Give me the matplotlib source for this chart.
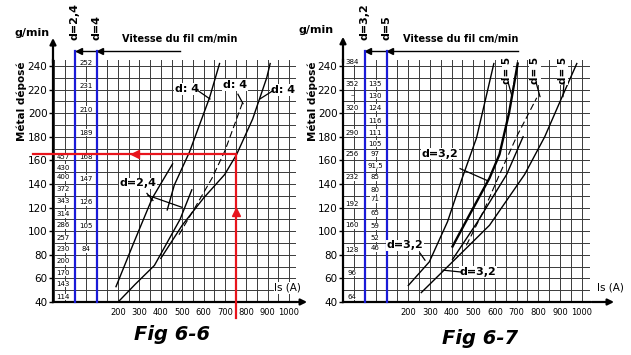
import matplotlib
matplotlib.use("Agg")
import matplotlib.pyplot as plt
import numpy as np

# Fig 6-6 : d = 2,4 and d = 4
curve_24a_I = [190, 275, 360, 455]
curve_24a_g = [53, 91, 128, 157]
curve_24b_I = [200, 280, 370, 450, 490, 545]
curve_24b_g = [40, 55, 71, 97, 110, 135]
curve_4a_I = [430, 463, 534, 628, 675]
curve_4a_g = [118, 139, 167, 213, 242]
curve_4b_I = [485, 560, 640, 700, 785]
curve_4b_g = [97, 120, 145, 168, 210]
curve_4c_I = [400, 500, 600, 699, 755, 830, 896, 912]
curve_4c_g = [77, 105, 128, 148, 165, 195, 230, 242]

wire_24_speed = [114, 143, 170, 200, 230, 257, 286, 314, 343, 372, 400, 430, 457]
wire_24_g = [44.2, 55.2, 64.5, 74.6, 84.7, 94, 105, 114.3, 125.2, 135.4, 145.5, 153.9, 163.2]
wire_4_speed = [84, 105, 126, 147, 168, 189, 210, 231, 252]
wire_4_g = [84.7, 104.1, 124.4, 144.6, 163.2, 183.5, 202.9, 223.1, 242.5]

# red reading example on Fig 6-6
red_I = 750
red_g = 165

# Fig 6-7 : d = 3,2 and d = 5
curve_r1_I = [200, 297, 381, 445, 515, 595]
curve_r1_g = [54, 74, 108, 143, 179, 242]
curve_r2_I = [404, 480, 575, 621, 665, 705]
curve_r2_g = [87, 113, 145, 165, 200, 242]
curve_r3_I = [404, 520, 654, 730]
curve_r3_g = [76, 108, 148, 180]
curve_rd_I = [468, 550, 621, 700, 793]
curve_rd_g = [88, 118, 148, 180, 213]
curve_rr_I = [260, 404, 575, 737, 830, 913, 978]
curve_rr_g = [48, 74, 105, 148, 180, 215, 242]

wire_32_speed = ['64', '96', '128', '160', '192', '232', '256', '290', '320', '–', '352', '384']
wire_32_g = [44.2, 64.5, 83.9, 105, 122.7, 145.5, 165.7, 183.5, 204.6, 215.5, 224.8, 243.4]
wire_5_speed = ['135', '130', '124', '116', '111', '105', '97', '91,5', '85', '80', '71', '65', '59', '52', '46']
wire_5_g = [224.8, 214.7, 204.6, 193.6, 183.5, 174.2, 165.7, 155.6, 145.5, 134.5, 126.9, 115.1, 104.1, 94, 85.6]

y_ticks = list(range(40, 241, 20))
x_ticks = list(range(200, 1001, 100))

BLUE = '#1a1ad8'
RED = '#e8141c'
W, H = 631, 355


def px_axes(fig, x0, y0, x1, y1):
    return fig.add_axes([x0 / W, 1 - y1 / H, (x1 - x0) / W, (y1 - y0) / H])


def setup_panel(ax, xmin, xmax, arrow_x, arrow_y):
    ax.set_xlim(xmin, xmax)
    ax.set_ylim(40, 245)
    for I in range(-100, 1001, 50):
        ax.plot([I, I], [40, 245], color='#3a3a3a', lw=0.7, zorder=1)
    for g in range(50, 241, 10):
        ax.plot([xmin, xmax], [g, g], color='#3a3a3a', lw=0.7, zorder=1)
    for s in ['top', 'right']:
        ax.spines[s].set_visible(False)
    ax.spines['left'].set_linewidth(1.6)
    ax.spines['bottom'].set_linewidth(1.6)
    ax.set_yticks(y_ticks)
    ax.set_yticklabels([str(v) for v in y_ticks], fontsize=7.5)
    ax.tick_params(axis='y', length=3, width=1, pad=1)
    ax.set_xticks(x_ticks)
    ax.set_xticklabels([str(v) for v in x_ticks], fontsize=6)
    ax.tick_params(axis='x', length=0, pad=4)
    # axis arrows
    ax.annotate('', xy=(xmin, arrow_y), xytext=(xmin, 240), annotation_clip=False,
                arrowprops=dict(arrowstyle='-|>', color='black', lw=1.6, mutation_scale=9))
    ax.annotate('', xy=(arrow_x, 40), xytext=(xmax - 5, 40), annotation_clip=False,
                arrowprops=dict(arrowstyle='-|>', color='black', lw=1.6, mutation_scale=9))


def header(ax, d1, d2, title_I, line_end):
    ax.plot([0, 0], [40, 252.7], color=BLUE, lw=1.6, clip_on=False, zorder=4)
    ax.plot([100, 100], [40, 252.7], color=BLUE, lw=1.6, clip_on=False, zorder=4)
    ax.plot([0, line_end], [252.7, 252.7], color='black', lw=1.0, clip_on=False)
    ax.plot([15, 115], [252.7, 252.7], ls='none', marker='<', ms=4, color='black', clip_on=False)
    ax.text(-2, 262, d1, rotation=90, ha='center', va='bottom', fontsize=8, fontweight='bold')
    ax.text(101, 262, d2, rotation=90, ha='center', va='bottom', fontsize=8, fontweight='bold')
    ax.text(title_I, 262.8, 'Vitesse du fil cm/min', ha='center', va='center',
            fontsize=7, fontweight='bold')


def label(ax, I, g, txt, rot=0):
    ax.text(I, g, txt, ha='center', va='center', fontsize=8, fontweight='bold', rotation=rot,
            bbox=dict(facecolor='white', edgecolor='none', pad=0.6), zorder=6)


def leader(ax, I0, g0, I1, g1):
    ax.plot([I0, I1], [g0, g1], color='black', lw=0.9, zorder=6)


fig = plt.figure(figsize=(W / 100, H / 100), dpi=100)
fig.patch.set_facecolor('white')

# ----------- Fig 6-6 ------------
ax1 = px_axes(fig, 53, 60, 296, 302)
setup_panel(ax1, -105, 1033, 1098, 266)
header(ax1, 'd=2,4', 'd=4', 490, 490)

for I_, g_ in [(curve_24a_I, curve_24a_g), (curve_24b_I, curve_24b_g),
               (curve_4a_I, curve_4a_g), (curve_4c_I, curve_4c_g)]:
    ax1.plot(I_, g_, color='black', lw=1.0, zorder=3)
ax1.plot(curve_4b_I, curve_4b_g, color='black', lw=0.8, ls=(0, (6, 3)), zorder=3)

for v, g in zip(wire_24_speed, wire_24_g):
    ax1.text(-58, g, str(v), ha='center', va='center', fontsize=5, zorder=5,
             bbox=dict(facecolor='white', edgecolor='none', pad=0.3))
for v, g in zip(wire_4_speed, wire_4_g):
    ax1.text(49.5, g, str(v), ha='center', va='center', fontsize=5, zorder=5,
             bbox=dict(facecolor='white', edgecolor='none', pad=0.3))

# red reading
ax1.plot([-200, red_I], [red_g, red_g], color=RED, lw=1.6, clip_on=False, zorder=5)
ax1.plot([red_I, red_I], [26.5, red_g], color=RED, lw=1.6, clip_on=False, zorder=5)
ax1.plot([279], [red_g], marker='<', ms=6, color=RED, zorder=5)
ax1.plot([red_I], [116], marker='^', ms=6, color=RED, zorder=5)

label(ax1, 293, 140.4, 'd=2,4')
leader(ax1, 335, 132, 363, 126)
leader(ax1, 340, 130.3, 499, 120.2)
label(ax1, 522, 220.6, 'd: 4')
leader(ax1, 574, 219, 630, 212)
label(ax1, 747, 224, 'd: 4')
leader(ax1, 761, 216, 785, 208)
label(ax1, 972, 219.7, 'd: 4')
leader(ax1, 925, 219, 864, 212)

ax1.text(995, 52, 'Is (A)', ha='center', va='center', fontsize=7.5,
         bbox=dict(facecolor='white', edgecolor='none', pad=0.5), zorder=6)
ax1.text(-203, 268, 'g/min', ha='center', va='center', fontsize=8, fontweight='bold',
         clip_on=False)
ax1.text(-250, 210, 'Métal déposé', rotation=90, ha='center', va='center', fontsize=7.5,
         fontweight='bold')

# ----------- Fig 6-7 ------------
ax2 = px_axes(fig, 343, 60, 590, 302)
setup_panel(ax2, -101.6, 1039, 1163, 267)
header(ax2, 'd=3,2', 'd=5', 443, 707)

for I_, g_ in [(curve_r1_I, curve_r1_g), (curve_r3_I, curve_r3_g), (curve_rr_I, curve_rr_g)]:
    ax2.plot(I_, g_, color='black', lw=1.0, zorder=3)
ax2.plot(curve_r2_I, curve_r2_g, color='black', lw=1.7, zorder=3)
ax2.plot(curve_rd_I, curve_rd_g, color='black', lw=0.8, ls=(0, (6, 3)), zorder=3)

for v, g in zip(wire_32_speed, wire_32_g):
    ax2.text(-60, g, v, ha='center', va='center', fontsize=5, zorder=5,
             bbox=dict(facecolor='white', edgecolor='none', pad=0.3))
for v, g in zip(wire_5_speed, wire_5_g):
    ax2.text(46, g, v, ha='center', va='center', fontsize=5, zorder=5,
             bbox=dict(facecolor='white', edgecolor='none', pad=0.3))

label(ax2, 346, 165.7, 'd=3,2')
leader(ax2, 439, 153, 563, 143)
label(ax2, 185, 88, 'd=3,2')
leader(ax2, 254, 81.4, 277, 75.4)
label(ax2, 522, 65.3, 'd=3,2')
leader(ax2, 448, 65.3, 360, 67)
for I_lab, I_end in [(656, 679), (785, 808), (914, 914)]:
    ax2.text(I_lab, 236, 'd= 5', rotation=90, ha='center', va='center', fontsize=7.5,
             fontweight='bold', bbox=dict(facecolor='white', edgecolor='none', pad=0.4),
             zorder=6, clip_on=False)
    leader(ax2, I_lab + 5, 226, I_end, 214)

ax2.text(1132, 52, 'Is (A)', ha='center', va='center', fontsize=7.5, clip_on=False,
         bbox=dict(facecolor='white', edgecolor='none', pad=0.5), zorder=6)
ax2.text(-226, 270, 'g/min', ha='center', va='center', fontsize=8, fontweight='bold')
ax2.text(-239, 210, 'Métal déposé', rotation=90, ha='center', va='center', fontsize=7.5,
         fontweight='bold')

fig.text(172 / W, 1 - 335 / H, 'Fig 6-6', ha='center', va='center', fontsize=14,
         fontweight='bold', style='italic')
fig.text(480 / W, 1 - 338 / H, 'Fig 6-7', ha='center', va='center', fontsize=14,
         fontweight='bold', style='italic')

fig.savefig('out.png', dpi=100, facecolor='white')
